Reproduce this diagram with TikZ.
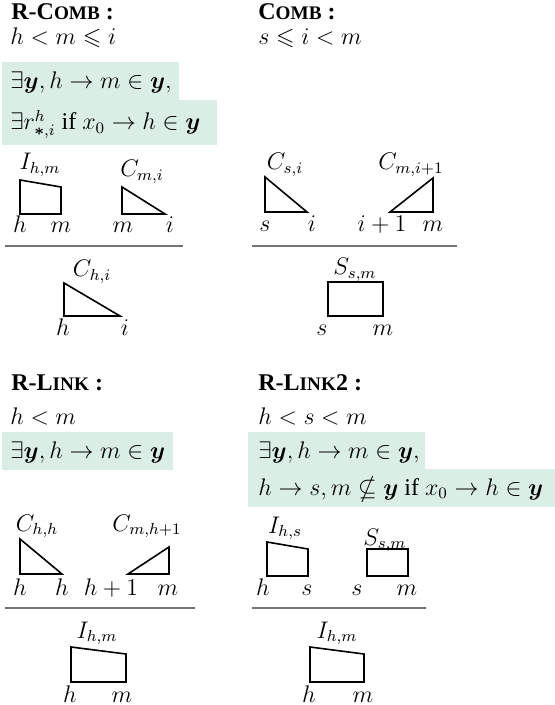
\documentclass[tikz,border=0pt]{standalone}
\usepackage{amsmath,amssymb}
\usepackage[no-math]{fontspec}
\setmainfont{Liberation Serif}
\usetikzlibrary{positioning}

\definecolor{mint}{RGB}{218,238,230}
\newcommand{\fsc}[1]{{\fontsize{9.6}{11}\selectfont #1}}
\newcommand{\by}{\boldsymbol{y}}

\begin{document}
\begin{tikzpicture}[
	x=0.5pt, y=-0.5pt,
	hd/.style = {anchor=base west, inner sep=0, font=\large\bfseries},
	tx/.style = {anchor=base west, inner sep=0, font=\large},
	lb/.style = {anchor=base, inner sep=0, font=\large},
	hl/.style = {fill=mint, draw=none},
	sh/.style = {draw=black, line width=0.8pt, line join=miter},
	rl/.style = {draw=black!55, line width=0.6pt}
	]
	\useasboundingbox (0,0) rectangle (555,705);
	
	% ===== ===== ===== ===== =====
	
	% Highlight
	\fill[hl]	(2,62)		rectangle	(179,100);
	\fill[hl]	(2,100)		rectangle	(217,145);
	
	% Nodes
	\node[hd]	(rc)	at	(11,20)		{R-C\fsc{OMB} :};
	\node[tx]	(rc0)	at	(10,45)		{$h < m \leqslant i$};
	\node[tx]	(rc1)	at	(10,89)		{$\exists\by, h \rightarrow m \in \by,$};
	\node[tx]	(rc2)	at	(10,130)	{$\exists r^h_{\boldsymbol{\ast},i}$ if $x_0 \rightarrow h \in \by$};
	
	% Shapes
	\draw[sh]	(20,180) -- (61,187) -- (61,214) -- (20,214) -- cycle;
	\node[lb]	(rcIa)	at	(40,170)	{$I_{h,m}$};
	\node[lb]	(rcIh)	at	(20,233)	{$h$};
	\node[lb]	(rcIm)	at	(61,233)	{$m$};
	
	\draw[sh]	(122,187) -- (165,214) -- (122,214) -- cycle;
	\node[lb]	(rcCa)	at	(142,177)	{$C_{m,i}$};
	\node[lb]	(rcCm)	at	(123,233)	{$m$};
	\node[lb]	(rcCi)	at	(170,233)	{$i$};
	
	\draw[rl]	(5,246) -- (183,246);
	
	\draw[sh]	(64,283) -- (120,316) -- (64,316) -- cycle;
	\node[lb]	(rcDa)	at	(92,277)	{$C_{h,i}$};
	\node[lb]	(rcDh)	at	(63,335)	{$h$};
	\node[lb]	(rcDi)	at	(125,335)	{$i$};
	
	
	
	% ===== ===== ===== ===== =====
	
	% Nodes
	\node[hd]	(cb)	at	(258,20)	{C\fsc{OMB} :};
	\node[tx]	(cb0)	at	(258,45)	{$s \leqslant i < m$};
	
	% Shapes
	\draw[sh]	(265,177) -- (307,212) -- (265,212) -- cycle;
	\node[lb]	(cbCa)	at	(285,170)	{$C_{s,i}$};
	\node[lb]	(cbCs)	at	(265,232)	{$s$};
	\node[lb]	(cbCi)	at	(312,232)	{$i$};
	
	\draw[sh]	(433,178) -- (433,212) -- (390,212) -- cycle;
	\node[lb]	(cbEa)	at	(411,170)	{$C_{m,i+1}$};
	\node[lb]	(cbEi)	at	(382,232)	{$i+1$};
	\node[lb]	(cbEm)	at	(433,232)	{$m$};
	
	\draw[rl]	(252,246) -- (457,246);
	
	\draw[sh]	(328,282) rectangle (383,316);
	\node[lb]	(cbSa)	at	(355,275)	{$S_{s,m}$};
	\node[lb]	(cbSs)	at	(322,335)	{$s$};
	\node[lb]	(cbSm)	at	(383,335)	{$m$};
	
	
	
	% ===== ===== ===== ===== =====
	
	% Highlight
	\fill[hl]	(2,432)		rectangle	(173,470);
	
	% Nodes
	\node[hd]	(rl)	at	(11,390)	{R-L\fsc{INK} :};
	\node[tx]	(rl0)	at	(10,424)	{$h < m$};
	\node[tx]	(rl1)	at	(10,458)	{$\exists\by, h \rightarrow m \in \by$};
	
	% Shapes
	\draw[sh]	(20,539) -- (62,574) -- (20,574) -- cycle;
	\node[lb]	(rlCa)	at	(37,531)	{$C_{h,h}$};
	\node[lb]	(rlCh)	at	(20,595)	{$h$};
	\node[lb]	(rlCk)	at	(62,595)	{$h$};
	
	\draw[sh]	(169,547) -- (169,574) -- (128,574) -- cycle;
	\node[lb]	(rlEa)	at	(147,531)	{$C_{m,h+1}$};
	\node[lb]	(rlEh)	at	(111,595)	{$h+1$};
	\node[lb]	(rlEm)	at	(168,595)	{$m$};
	
	\draw[rl]	(5,608) -- (195,608);
	
	\draw[sh]	(71,647) -- (126,654) -- (126,682) -- (71,682) -- cycle;
	\node[lb]	(rlIa)	at	(97,638)	{$I_{h,m}$};
	\node[lb]	(rlIh)	at	(70,702)	{$h$};
	\node[lb]	(rlIm)	at	(122,702)	{$m$};
	
	
	
	% ===== ===== ===== ===== =====
	
	% Highlight
	\fill[hl]	(248,432)	rectangle	(425,469);
	\fill[hl]	(248,469)	rectangle	(555,507);
	
	% Nodes
	\node[hd]	(rk)	at	(258,390)	{R-L\fsc{INK}2 :};
	\node[tx]	(rk0)	at	(258,424)	{$h < s < m$};
	\node[tx]	(rk1)	at	(258,458)	{$\exists\by, h \rightarrow m \in \by,$};
	\node[tx]	(rk2)	at	(258,495)	{$h \rightarrow s, m \nsubseteq \by$ if $x_0 \rightarrow h \in \by$};
	
	% Shapes
	\draw[sh]	(267,542) -- (308,549) -- (308,576) -- (267,576) -- cycle;
	\node[lb]	(rkIa)	at	(285,533)	{$I_{h,s}$};
	\node[lb]	(rkIh)	at	(263,595)	{$h$};
	\node[lb]	(rkIs)	at	(307,595)	{$s$};
	
	\draw[sh]	(367,549) rectangle (408,576);
	\node[lb]	(rkSa)	at	(385,545)	{$S_{s,m}$};
	\node[lb]	(rkSs)	at	(357,595)	{$s$};
	\node[lb]	(rkSm)	at	(407,595)	{$m$};
	
	\draw[rl]	(252,608) -- (426,608);
	
	\draw[sh]	(310,647) -- (364,654) -- (364,682) -- (310,682) -- cycle;
	\node[lb]	(rkJa)	at	(337,638)	{$I_{h,m}$};
	\node[lb]	(rkJh)	at	(309,702)	{$h$};
	\node[lb]	(rkJm)	at	(363,702)	{$m$};
	
\end{tikzpicture}
\end{document}
